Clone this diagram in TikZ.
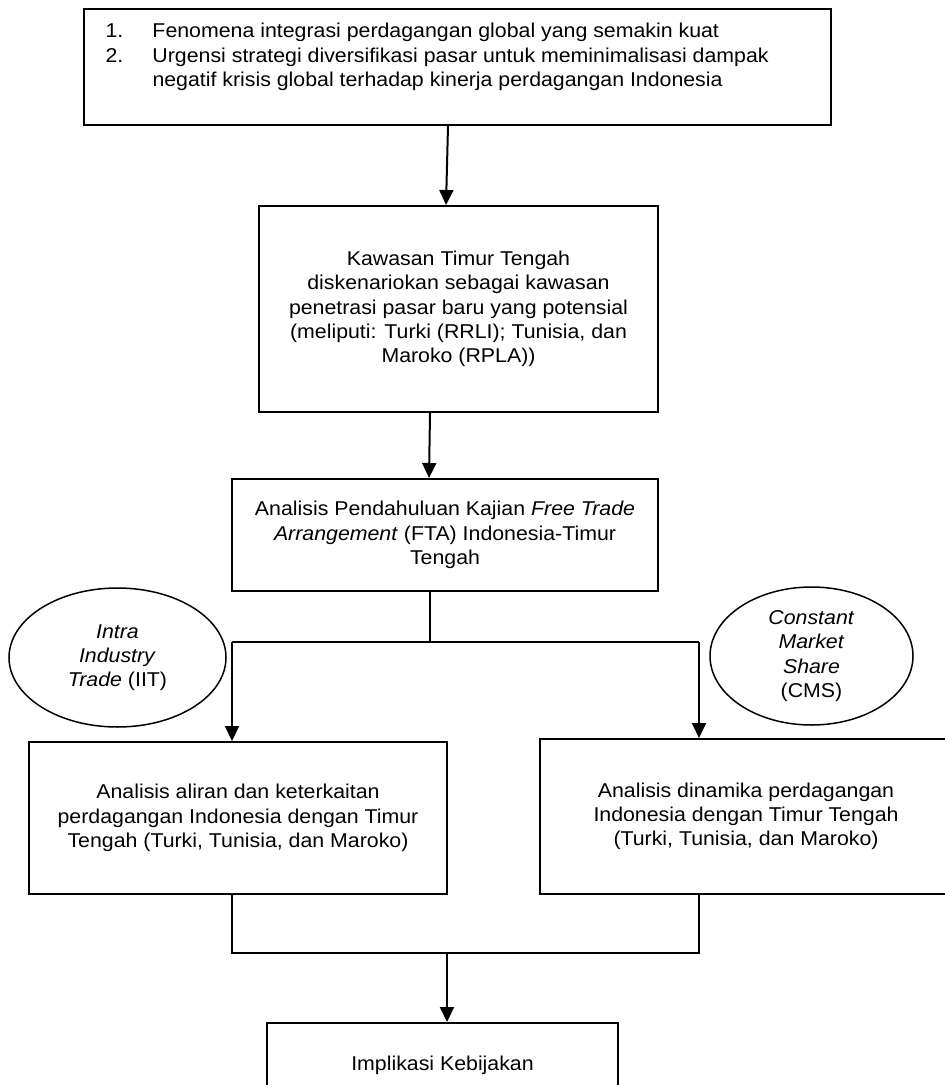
\documentclass[tikz,border=0pt]{standalone}
\usepackage{fontspec}
\setmainfont{Liberation Sans}[FakeStretch=1.066]
\usetikzlibrary{arrows.meta,shapes.geometric}

\tikzset{
    flowbox/.style={draw, line width=1pt, align=center, inner sep=0pt},
    methodoval/.style={draw, ellipse, line width=0.75pt, align=center, inner sep=0pt},
    flowline/.style={line width=1pt},
    flowarrow/.style={line width=1pt, -{Triangle[width=7pt,length=7.5pt]}}
}

\begin{document}
\begin{tikzpicture}[x=0.5pt, y=-0.5pt, font=\fontsize{10}{12.15}\selectfont]
    \useasboundingbox (0,0) rectangle (945,1085);

    % boxes
    \node[flowbox, anchor=north, inner xsep=11pt, text height=14.5pt, text depth=43.5pt] (latar) at (457,8) {%
        \begin{tabular}[t]{@{}p{23.5pt}@{}p{328pt}@{}}
        1. & Fenomena integrasi perdagangan global yang semakin kuat\\
        2. & Urgensi strategi diversifikasi pasar untuk meminimalisasi dampak\\
           & negatif krisis global terhadap kinerja perdagangan Indonesia
        \end{tabular}};
    \node[flowbox, minimum width=199.5pt, minimum height=103pt] (kawasan) at (458.5,309)
        {Kawasan Timur Tengah\\ diskenariokan sebagai kawasan\\ penetrasi pasar baru yang potensial\\
         (meliputi: Turki (RRLI); Tunisia, dan\\ Maroko (RPLA))};
    \node[flowbox, minimum width=213pt, minimum height=56pt] (pendahuluan) at (445,535)
        {Analisis Pendahuluan Kajian \textit{Free Trade}\\ \textit{Arrangement} (FTA) Indonesia-Timur\\ Tengah};
    \node[flowbox, minimum width=209pt, minimum height=76pt] (aliran) at (238,818)
        {Analisis aliran dan keterkaitan\\ perdagangan Indonesia dengan Timur\\ Tengah (Turki, Tunisia, dan Maroko)};
    \node[flowbox, minimum width=206pt, minimum height=77.5pt] (dinamika) at (746,816.5)
        {Analisis dinamika perdagangan\\ Indonesia dengan Timur Tengah\\ (Turki, Tunisia, dan Maroko)};
    \node[flowbox, minimum width=175.5pt, minimum height=42pt] (implikasi) at (442.5,1065)
        {Implikasi Kebijakan};

    % methods
    \node[methodoval, minimum width=108.5pt, minimum height=69.5pt] (iit) at (117.5,657.5)
        {\textit{Intra}\\ \textit{Industry}\\ \textit{Trade} (IIT)};
    \node[methodoval, minimum width=101.5pt, minimum height=69pt] (cms) at (811.5,656)
        {\textit{Constant}\\ \textit{Market}\\ \textit{Share}\\ (CMS)};

    % arrows
    \draw[flowarrow] ([xshift=-4.5pt]latar.south) -- ([xshift=-6.25pt]kawasan.north);
    \draw[flowarrow] ([xshift=-14.25pt]kawasan.south) -- ([xshift=-8pt]pendahuluan.north);

    % branch
    \coordinate (cabang) at (430,642);
    \coordinate (cabangkiri) at (232,642);
    \coordinate (cabangkanan) at (699,642);
    \draw[flowline] (pendahuluan.south -| cabang) -- (cabang);
    \draw[flowline] (cabangkiri) -- (cabangkanan);
    \draw[flowarrow] (cabangkiri) -- (cabangkiri |- aliran.north);
    \draw[flowarrow] (cabangkanan) -- (cabangkanan |- dinamika.north);

    % join
    \coordinate (gabungkiri) at (232,953);
    \coordinate (gabungkanan) at (699,953);
    \coordinate (gabung) at (447,953);
    \draw[flowline] (gabungkiri |- aliran.south) -- (gabungkiri) -- (gabungkanan) -- (gabungkanan |- dinamika.south);
    \draw[flowarrow] (gabung) -- (gabung |- implikasi.north);

\end{tikzpicture}
\end{document}
